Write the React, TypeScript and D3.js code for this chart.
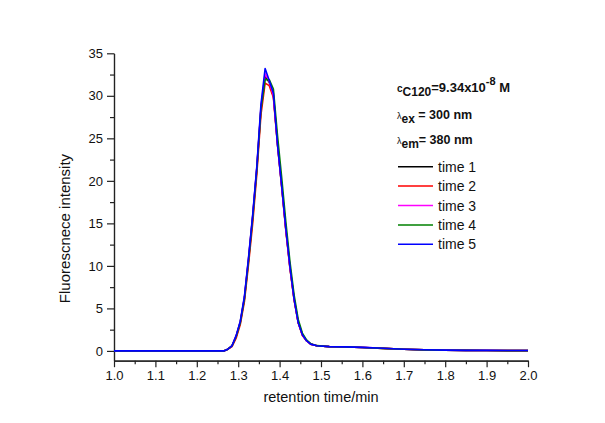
import React, { useEffect, useRef } from "react";
import * as d3 from "d3";

// retention time (min), shared by all runs
const times = [1.0, 1.1, 1.2, 1.265, 1.275, 1.285, 1.295, 1.305, 1.315, 1.325, 1.335, 1.345, 1.355, 1.365, 1.375, 1.385, 1.395, 1.405, 1.415, 1.425, 1.435, 1.445, 1.455, 1.465, 1.475, 1.49, 1.52, 1.56, 1.6, 1.65, 1.7, 1.75, 1.8, 1.85, 1.9, 1.95, 2.0];

const time1 = [0, 0, 0, 0, 0.2, 0.6, 1.7, 3.4, 6.2, 10.8, 15.8, 21.5, 28.5, 32.3, 31.6, 30.0, 24.3, 19.4, 14.3, 9.8, 6.1, 3.3, 1.9, 1.2, 0.8, 0.6, 0.5, 0.47, 0.4, 0.3, 0.19, 0.12, 0.08, 0.06, 0.05, 0.04, 0.04];
const time2 = [0, 0, 0, 0, 0.2, 0.5, 1.5, 3.1, 5.8, 10.2, 15.0, 20.8, 27.8, 31.5, 31.2, 29.8, 24.2, 19.3, 14.2, 9.7, 6.0, 3.3, 1.8, 1.2, 0.8, 0.6, 0.5, 0.47, 0.4, 0.3, 0.19, 0.12, 0.08, 0.06, 0.05, 0.04, 0.04];
const time3 = [0, 0, 0, 0, 0.2, 0.6, 1.8, 3.4, 6.3, 10.9, 15.9, 21.6, 28.7, 32.6, 31.7, 30.1, 24.4, 19.5, 14.4, 9.9, 6.2, 3.4, 1.9, 1.2, 0.8, 0.6, 0.5, 0.48, 0.42, 0.32, 0.2, 0.13, 0.09, 0.07, 0.06, 0.05, 0.05];
const time4 = [0, 0, 0, 0, 0.2, 0.6, 1.7, 3.3, 6.1, 10.6, 15.6, 21.3, 28.4, 31.9, 31.9, 30.8, 25.3, 20.4, 15.2, 10.5, 6.6, 3.7, 2.1, 1.3, 0.85, 0.62, 0.5, 0.47, 0.4, 0.3, 0.19, 0.12, 0.08, 0.06, 0.05, 0.04, 0.04];
const time5 = [0, 0, 0, 0, 0.2, 0.6, 1.8, 3.5, 6.4, 11, 16, 21.7, 29, 33.2, 31.8, 30.3, 24.2, 19.4, 14.4, 9.9, 6.1, 3.3, 1.9, 1.2, 0.8, 0.6, 0.5, 0.48, 0.42, 0.32, 0.2, 0.13, 0.09, 0.07, 0.06, 0.05, 0.05];

const seriesNames = ["time 1", "time 2", "time 3", "time 4", "time 5"];
const seriesValues = [time1, time2, time3, time4, time5];
const colors = ["#000000", "#ff0000", "#ff00ff", "#008000", "#0000ff"];

const xTicks = [1.0, 1.1, 1.2, 1.3, 1.4, 1.5, 1.6, 1.7, 1.8, 1.9, 2.0];
const yTicks = [0, 5, 10, 15, 20, 25, 30, 35];

const W = 605;
const H = 423;
const font = "Arial, 'Liberation Sans', sans-serif";

export default function App() {
  const chartRef = useRef<SVGGElement>(null);

  useEffect(() => {
    const g = d3.select(chartRef.current);
    g.selectAll("*").remove();

    const x = d3.scaleLinear().domain([1.0, 2.0]).range([114, 528]);
    const y = d3.scaleLinear().domain([-1.15, 35]).range([360.7, 53.3]);

    // minor ticks first
    const xMinor = d3.range(1.05, 2.0, 0.1);
    g.append("g")
      .attr("transform", "translate(0,360.7)")
      .call(d3.axisBottom(x).tickValues(xMinor).tickSize(3.5).tickSizeOuter(0).tickFormat(() => ""));
    const yMinor = d3.range(2.5, 35, 5);
    g.append("g")
      .attr("transform", "translate(114,0)")
      .call(d3.axisLeft(y).tickValues(yMinor).tickSize(4).tickSizeOuter(0).tickFormat(() => ""));

    const xAxis = g.append("g")
      .attr("transform", "translate(0,360.7)")
      .call(d3.axisBottom(x).tickValues(xTicks).tickSize(6.5).tickSizeOuter(0).tickPadding(4).tickFormat(d3.format(".1f")));
    const yAxis = g.append("g")
      .attr("transform", "translate(114,0)")
      .call(d3.axisLeft(y).tickValues(yTicks).tickSize(7).tickSizeOuter(0).tickPadding(4));

    g.selectAll(".domain, .tick line").attr("stroke", "#222").attr("stroke-width", 1.2);
    [xAxis, yAxis].forEach(a =>
      a.selectAll("text").attr("font-family", font).attr("font-size", 13).attr("fill", "#111")
    );

    const line = d3.line<number>()
      .x((d, i) => x(times[i]))
      .y(d => y(d));

    seriesValues.forEach((vals, k) => {
      g.append("path")
        .datum(vals)
        .attr("d", line)
        .attr("fill", "none")
        .attr("stroke", colors[k])
        .attr("stroke-width", 1.6)
        .attr("stroke-linejoin", "round");
    });

    // legend
    const legend = g.append("g");
    seriesNames.forEach((name, k) => {
      const ly = 166.7 + k * 19.4;
      legend.append("line")
        .attr("x1", 398).attr("x2", 433)
        .attr("y1", ly).attr("y2", ly)
        .attr("stroke", colors[k]).attr("stroke-width", 1.5);
      legend.append("text")
        .attr("x", 438).attr("y", ly + 5)
        .attr("font-family", font).attr("font-size", 14)
        .attr("fill", "#111")
        .text(name);
    });
  }, []);

  return (
    <svg
      width={W}
      height={H}
      style={{ position: "absolute", left: 0, top: 0, background: "#fff" }}
    >
      <g ref={chartRef} />
      <g fontFamily={font} fontWeight="bold" fill="#111">
        <text x={397} y={92} fontSize={13}>
          <tspan fontSize={10}>c</tspan>
          <tspan fontSize={12} dy={4}>C120</tspan>
          <tspan fontSize={13} dy={-4}>=9.34x10</tspan>
          <tspan fontSize={11} dy={-7}>-8</tspan>
          <tspan fontSize={13} dy={7}> M</tspan>
        </text>
        <text x={397} y={119} fontSize={12.5}>
          <tspan fontSize={9} fontWeight="normal">λ</tspan>
          <tspan fontSize={12} dy={4}>ex</tspan>
          <tspan dy={-4}> = 300 nm</tspan>
        </text>
        <text x={397} y={144} fontSize={12.5}>
          <tspan fontSize={9} fontWeight="normal">λ</tspan>
          <tspan fontSize={12} dy={4}>em</tspan>
          <tspan dy={-4}>= 380 nm</tspan>
        </text>
      </g>
      <text
        transform="translate(70,228.5) rotate(-90)"
        textAnchor="middle"
        fontFamily={font}
        fontSize={15}
        fill="#111"
      >
        Fluorescnece intensity
      </text>
      <text x={321} y={402} textAnchor="middle" fontFamily={font} fontSize={14.5} fill="#111">
        retention time/min
      </text>
    </svg>
  );
}
